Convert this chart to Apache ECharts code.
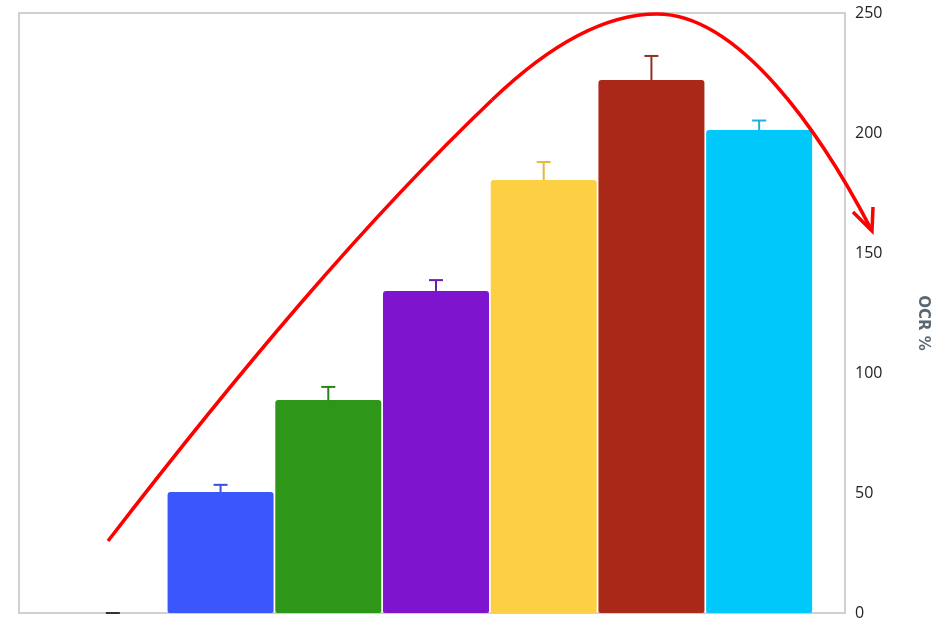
<!DOCTYPE html>
<html>
<head>
    <meta charset="utf-8">
    <title>OCR %</title>
    <script src="https://cdn.jsdelivr.net/npm/echarts@6/dist/echarts.min.js"></script>
    <style>
        * { margin: 0; padding: 0 }
        #main { width: 938px; height: 621px; background: #fff; }
    </style>
</head>
<body>
    <div id="main"></div>
    <script type="text/javascript">
        // data
        var groups = ['G0', 'G1', 'G2', 'G3', 'G4', 'G5', 'G6'];
        var ocr = [0, 50.4, 88.7, 134.2, 180.4, 222.1, 201.2];
        var ocrErr = [0, 3, 5.5, 4.5, 7.5, 10, 4];
        var barColors = ['#333333', '#3a57fb', '#2e9618', '#7f14cf', '#fdd043', '#a92817', '#00c8fb'];
        var errColors = ['#333333', '#3550e0', '#2c8219', '#6a1cb8', '#e3b93c', '#8e3322', '#16b2e0'];
        var yTicks = [0, 50, 100, 150, 200, 250];

        var myChart = echarts.init(document.getElementById('main'));

        var arrowStyle = { fill: null, stroke: '#ff0000', lineWidth: 3.5 };

        var option = {
            animation: false,
            grid: [
                // frame + right axis
                { left: 19, right: 85, top: 13, bottom: 8, show: true, borderColor: '#d0d0d0', borderWidth: 2 },
                // bars
                { left: 59, right: 125, top: 13, bottom: 8 }
            ],
            xAxis: [
                { gridIndex: 0, type: 'category', data: [''], show: false },
                { gridIndex: 1, type: 'category', data: groups, show: false }
            ],
            yAxis: [
                {
                    gridIndex: 0, type: 'value', position: 'right',
                    min: yTicks[0], max: yTicks[yTicks.length - 1], interval: 50,
                    axisLine: { show: false }, axisTick: { show: false }, splitLine: { show: false },
                    axisLabel: { margin: 10, color: '#222', fontSize: 16, fontFamily: 'Open Sans' },
                    name: 'OCR %', nameLocation: 'middle', nameRotate: -90, nameGap: 70,
                    nameTextStyle: {
                        color: '#5b6770', fontSize: 15, fontWeight: 'bold', fontFamily: 'DejaVu Sans',
                        padding: [0, 0, 0, 20]
                    }
                },
                {
                    gridIndex: 1, type: 'value', min: 0, max: 250, show: false
                }
            ],
            series: [
                {
                    type: 'bar', xAxisIndex: 1, yAxisIndex: 1,
                    barCategoryGap: '1.6%',
                    data: ocr.map(function (v, i) {
                        return { value: v, itemStyle: { color: barColors[i], borderRadius: [3, 3, 2, 2] } };
                    })
                },
                {
                    type: 'custom', xAxisIndex: 1, yAxisIndex: 1, z: 3,
                    data: ocr.map(function (v, i) { return [i, v, v + ocrErr[i]]; }),
                    renderItem: function (params, api) {
                        var lo = api.coord([api.value(0), api.value(1)]);
                        var hi = api.coord([api.value(0), api.value(2)]);
                        var c = errColors[params.dataIndex];
                        var half = 7;
                        return {
                            type: 'group',
                            children: [
                                { type: 'line', shape: { x1: lo[0], y1: lo[1], x2: hi[0], y2: hi[1] }, style: { stroke: c, lineWidth: 2 } },
                                { type: 'line', shape: { x1: hi[0] - half, y1: hi[1], x2: hi[0] + half, y2: hi[1] }, style: { stroke: c, lineWidth: 2 } }
                            ]
                        };
                    }
                }
            ],
            // red trend arrow drawn over the bars
            graphic: [
                {
                    type: 'bezierCurve', z: 100,
                    shape: { x1: 108, y1: 541, cpx1: 236, cpy1: 375, cpx2: 364, cpy2: 222, x2: 492, y2: 100 },
                    style: arrowStyle
                },
                {
                    type: 'bezierCurve', z: 100,
                    shape: { x1: 492, y1: 100, cpx1: 542, cpy1: 52, cpx2: 600, cpy2: 14, x2: 657, y2: 14 },
                    style: arrowStyle
                },
                {
                    type: 'bezierCurve', z: 100,
                    shape: { x1: 657, y1: 14, cpx1: 740, cpy1: 14, cpx2: 822, cpy2: 135, x2: 871, y2: 229 },
                    style: arrowStyle
                },
                {
                    type: 'polyline', z: 100,
                    shape: { points: [[853, 212], [872, 231], [873, 207]] },
                    style: arrowStyle
                }
            ]
        };

        myChart.setOption(option);
    </script>
</body>
</html>
